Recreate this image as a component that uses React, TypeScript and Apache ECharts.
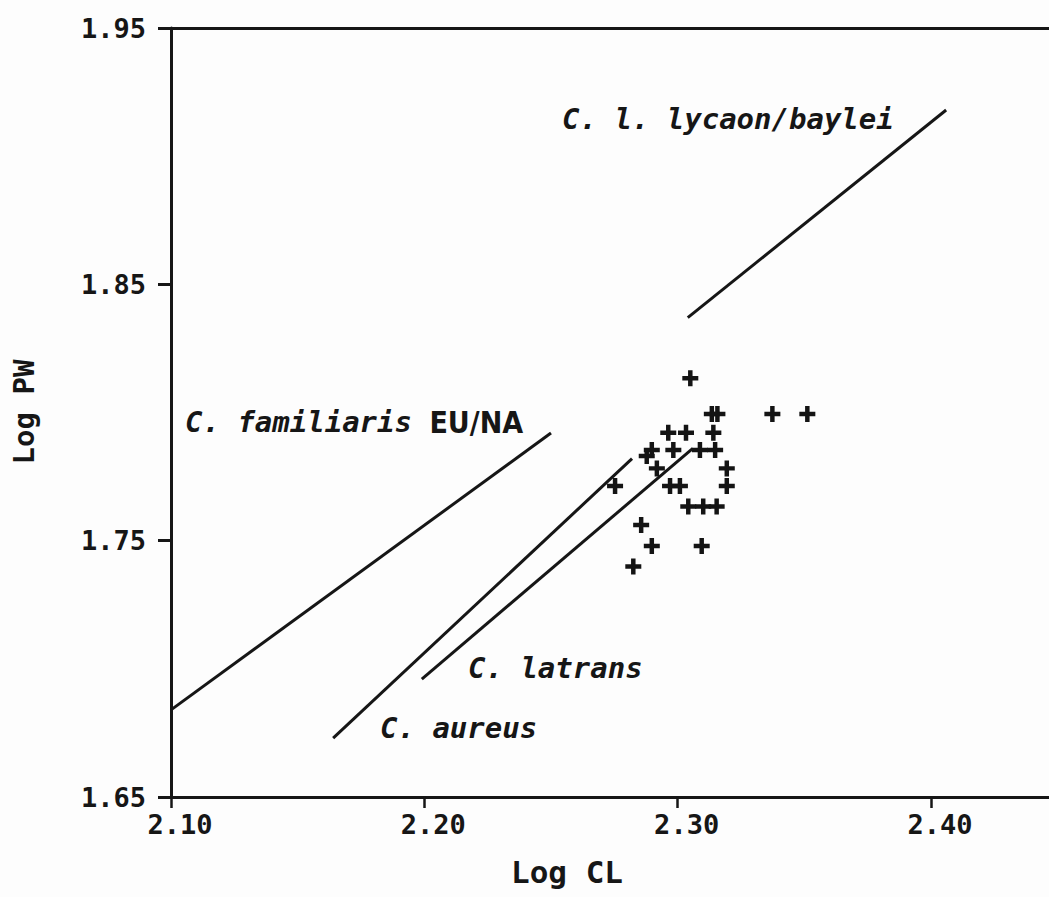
import React, { useEffect, useRef } from "react";
import * as echarts from "echarts";

// ---- data ----
const xTicks = [2.1, 2.2, 2.3, 2.4];
const yTicks = [1.65, 1.75, 1.85, 1.95];
const xRange = [2.1, 2.4466];
const yRange = [1.65, 1.95];

const familiarisLine = [[2.1, 1.684], [2.25, 1.792]];
const aureusLine = [[2.164, 1.673], [2.282, 1.782]];
const latransLine = [[2.199, 1.696], [2.306, 1.786]];
const lycaonLine = [[2.304, 1.837], [2.406, 1.918]];

const specimenCL = [
  2.305, 2.3135, 2.3157, 2.3374, 2.3512, 2.2963, 2.3033, 2.3141, 2.2878, 2.2898,
  2.2983, 2.3088, 2.3148, 2.2918, 2.3194, 2.2753, 2.297, 2.3009, 2.3194, 2.3042,
  2.3101, 2.3154, 2.2856, 2.2898, 2.3095, 2.2825,
];
const specimenPW = [
  1.8134, 1.7994, 1.7994, 1.7994, 1.7994, 1.7921, 1.7921, 1.7921, 1.783, 1.7854,
  1.7854, 1.7854, 1.7854, 1.7782, 1.7782, 1.7713, 1.7713, 1.7713, 1.7713, 1.7633,
  1.7633, 1.7633, 1.7561, 1.7479, 1.7479, 1.7399,
];

const labelLycaon = "C. l. lycaon/baylei";
const labelFamiliaris = "C. familiaris";
const labelRegion = "EU/NA";
const labelLatrans = "C. latrans";
const labelAureus = "C. aureus";
const xName = "Log CL";
const yName = "Log PW";

const INK = "#161616";
const MONO = "'DejaVu Sans Mono', monospace";
const PLUS = "path://M5.4,0H9.6V5.4H15V9.6H9.6V15H5.4V9.6H0V5.4H5.4Z";

export default function App() {
  const ref = useRef<HTMLDivElement>(null);

  useEffect(() => {
    if (!ref.current) return;
    const chart = echarts.init(ref.current, undefined, { renderer: "svg" });

    const lineSeries = (data: number[][]) => ({
      type: "line",
      data,
      showSymbol: false,
      symbol: "none",
      lineStyle: { color: INK, width: 3 },
      silent: true,
    });

    const specimens = specimenCL.map((x, i) => [x, specimenPW[i]]);

    const tickFont = {
      fontFamily: MONO,
      fontWeight: "bold" as const,
      fontSize: 27,
      color: INK,
    };

    chart.setOption({
      animation: false,
      backgroundColor: "#fdfdfd",
      grid: { left: 171, top: 28, right: 0, bottom: 100 },
      xAxis: [
        {
          type: "value",
          min: xRange[0],
          max: xRange[1],
          axisLine: { onZero: false, lineStyle: { color: INK, width: 3 } },
          axisTick: {
            inside: false,
            length: 11,
            lineStyle: { color: INK, width: 2.5 },
            customValues: xTicks,
          },
          axisLabel: {
            ...tickFont,
            margin: 14,
            padding: [0, 0, 0, 18],
            customValues: xTicks,
            formatter: (v: number) => v.toFixed(2),
          },
          splitLine: { show: false },
        },
        {
          type: "value",
          position: "top",
          min: xRange[0],
          max: xRange[1],
          axisLine: { onZero: false, lineStyle: { color: INK, width: 3 } },
          axisTick: { show: false },
          axisLabel: { show: false },
          splitLine: { show: false },
        },
      ],
      yAxis: {
        type: "value",
        min: yRange[0],
        max: yRange[1],
        axisLine: { onZero: false, lineStyle: { color: INK, width: 3 } },
        axisTick: {
          inside: false,
          length: 13,
          lineStyle: { color: INK, width: 3 },
          customValues: yTicks,
        },
        axisLabel: {
          ...tickFont,
          margin: 25,
          customValues: yTicks,
          formatter: (v: number) => v.toFixed(2),
        },
        splitLine: { show: false },
      },
      series: [
        lineSeries(familiarisLine),
        lineSeries(aureusLine),
        lineSeries(latransLine),
        lineSeries(lycaonLine),
        {
          type: "scatter",
          data: specimens,
          symbol: PLUS,
          symbolSize: 16,
          itemStyle: { color: "#141414", opacity: 1 },
          silent: true,
        },
      ],
      graphic: [
        {
          type: "text",
          x: 562,
          y: 119,
          style: {
            text: labelLycaon,
            fontFamily: MONO,
            fontWeight: "bold",
            fontStyle: "italic",
            fontSize: 29,
            fill: INK,
            align: "left",
            verticalAlign: "middle",
          },
        },
        {
          type: "text",
          x: 185,
          y: 422,
          style: {
            text: `{a|${labelFamiliaris} }{b|${labelRegion}}`,
            rich: {
              a: {
                fontFamily: MONO,
                fontWeight: "bold",
                fontStyle: "italic",
                fontSize: 29,
                fill: INK,
                color: INK,
              },
              b: {
                fontFamily: "'DejaVu Sans Condensed', 'DejaVu Sans', sans-serif",
                fontWeight: "bold",
                fontSize: 30,
                fill: INK,
                color: INK,
              },
            },
            fill: INK,
            align: "left",
            verticalAlign: "middle",
          },
        },
        {
          type: "text",
          x: 468,
          y: 668,
          style: {
            text: labelLatrans,
            fontFamily: MONO,
            fontWeight: "bold",
            fontStyle: "italic",
            fontSize: 29,
            fill: INK,
            align: "left",
            verticalAlign: "middle",
          },
        },
        {
          type: "text",
          x: 380,
          y: 728,
          style: {
            text: labelAureus,
            fontFamily: MONO,
            fontWeight: "bold",
            fontStyle: "italic",
            fontSize: 29,
            fill: INK,
            align: "left",
            verticalAlign: "middle",
          },
        },
        {
          type: "text",
          x: 567,
          y: 872,
          style: {
            text: xName,
            fontFamily: MONO,
            fontWeight: "bold",
            fontSize: 31,
            fill: INK,
            align: "center",
            verticalAlign: "middle",
          },
        },
        {
          type: "text",
          x: 24,
          y: 412,
          rotation: Math.PI / 2,
          style: {
            text: yName,
            fontFamily: MONO,
            fontWeight: "bold",
            fontSize: 29,
            fill: INK,
            align: "center",
            verticalAlign: "middle",
          },
        },
      ],
    });

    return () => chart.dispose();
  }, []);

  return (
    <div
      ref={ref}
      style={{ position: "absolute", left: 0, top: 0, width: 1049, height: 897 }}
    />
  );
}
